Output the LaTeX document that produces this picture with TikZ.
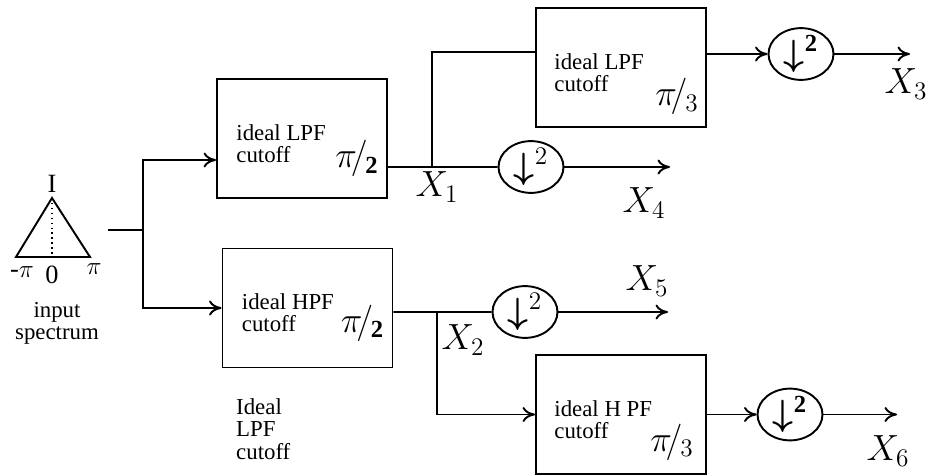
\documentclass[tikz,border=0pt]{standalone}
\usepackage{bm}
\usepackage{fontspec}
\setmainfont{Liberation Serif}
\usetikzlibrary{arrows.meta,positioning,shapes.geometric}

\begin{document}
\begin{tikzpicture}[
  x=0.02cm, y=-0.02cm,
  every node/.style={font=\fontsize{13}{12.5}\selectfont},
  filt/.style={draw, line width=1.1pt, minimum width=3.4cm, minimum height=2.38cm, inner sep=0pt},
  ftext/.style={anchor=west, align=left, inner sep=0pt},
  cut/.style={font=\fontsize{20}{22}\selectfont, inner sep=0pt},
  decim/.style={draw, line width=1.1pt, ellipse, minimum width=1.3cm, minimum height=1.0cm, inner sep=0pt, font=\fontsize{20}{20}\selectfont},
  arrow/.style={-{To[length=2.5mm, width=3mm]}, line width=1.1pt},
  wire/.style={line width=1.1pt},
  sig/.style={font=\fontsize{20}{22}\selectfont, inner sep=0pt},
  axlbl/.style={font=\fontsize{15}{15}\selectfont, inner sep=1pt}
]
  \useasboundingbox (0,0) rectangle (926,476);

  % input spectrum
  \coordinate (tl) at (16,257);
  \coordinate (tr) at (90,257);
  \coordinate (tp) at (52,198);
  \coordinate (t0) at (52,257);
  \draw[line width=1.1pt] (tl) -- (tp) -- (tr) -- cycle;
  \draw[thick, dotted] (tp) -- (t0);
  \node[axlbl, above=2pt of tp] (peak) {I};
  \node[axlbl] (mpi) at (22,272) {-$\pi$};
  \node[axlbl] (zero) at (52,275) {0};
  \node[axlbl] (ppi) at (94,269) {$\pi$};
  \node[align=center] (inlbl) at (57,323) {input\\spectrum};

  % filters
  \node[filt] (lpfa) at (302,138.5) {};
  \node[ftext] (lpfatxt) at ([xshift=0.4cm, yshift=-0.1cm]lpfa.west) {ideal LPF\\cutoff};
  \node[cut] (lpfacut) at ([xshift=-0.62cm, yshift=-0.4cm]lpfa.east) {$\pi\mkern-3mu/\mkern-1mu_{\mathbf{2}}$};

  \node[filt] (hpfa) at (307.5,308) {};
  \node[ftext] (hpfatxt) at ([xshift=0.4cm, yshift=-0.1cm]hpfa.west) {ideal HPF\\cutoff};
  \node[cut] (hpfacut) at ([xshift=-0.62cm, yshift=-0.3cm]hpfa.east) {$\pi\mkern-3mu/\mkern-1mu_{\mathbf{2}}$};

  \node[filt] (lpfb) at (621,67.5) {};
  \node[ftext] (lpfbtxt) at ([xshift=0.38cm, yshift=-0.1cm]lpfb.west) {ideal LPF\\cutoff};
  \node[cut] (lpfbcut) at ([xshift=-0.6cm, yshift=-0.58cm]lpfb.east) {$\pi\mkern-3mu/\mkern-1mu_{3}$};

  \node[filt] (hpfb) at (621,414.5) {};
  \node[ftext] (hpfbtxt) at ([xshift=0.38cm, yshift=-0.1cm]hpfb.west) {ideal H PF\\cutoff};
  \node[cut] (hpfbcut) at ([xshift=-0.7cm, yshift=-0.55cm]hpfb.east) {$\pi\mkern-3mu/\mkern-1mu_{3}$};

  % decimators
  \node[decim] (dec3) at (801,54) {$\bm{\downarrow}^{\mathbf{2}}$};
  \node[decim] (dec4) at (531,167) {$\bm{\downarrow}^{2}$};
  \node[decim] (dec5) at (525,312) {$\bm{\downarrow}^{2}$};
  \node[decim] (dec6) at (790,414.5) {$\bm{\downarrow}^{\mathbf{2}}$};

  % wiring
  \coordinate (src) at (108,230);
  \coordinate (split) at (143,230);
  \coordinate (xa) at (432,167);
  \coordinate (xb) at (437,312);
  \coordinate (x3end) at (910,54);
  \coordinate (x4end) at (670,167);
  \coordinate (x5end) at (668,312);
  \coordinate (x6end) at (897,414.5);

  \draw[wire] (src) -- (split);
  \draw[arrow] (split) |- ([yshift=-0.43cm]lpfa.west);
  \draw[arrow] (split) |- (hpfa.west);

  \draw[wire] ([yshift=-0.57cm]lpfa.east) -- (xa) -- (dec4.west);
  \draw[wire] (xa) |- ([yshift=0.31cm]lpfb.west);
  \draw[arrow] ([yshift=0.27cm]lpfb.east) -- (dec3.west);
  \draw[arrow] (dec3.east) -- (x3end);
  \draw[arrow] (dec4.east) -- (x4end);

  \draw[wire] ([yshift=-0.08cm]hpfa.east) -- (xb) -- (dec5.west);
  \draw[arrow] (xb) |- (hpfb.west);
  \draw[arrow] (hpfb.east) -- (dec6.west);
  \draw[arrow] (dec5.east) -- (x5end);
  \draw[arrow] (dec6.east) -- (x6end);

  % signal labels
  \node[sig] (lx1) at (437,187) {$X_1$};
  \node[sig] (lx2) at (463,340) {$X_2$};
  \node[sig] (lx3) at (906,84) {$X_3$};
  \node[sig] (lx4) at (644,203) {$X_4$};
  \node[sig] (lx5) at (647,281) {$X_5$};
  \node[sig] (lx6) at (888,451) {$X_6$};

  \node[align=left, anchor=north west, font=\fontsize{13}{13}\selectfont] (note) at (230,392) {Ideal\\LPF\\cutoff};
\end{tikzpicture}
\end{document}
